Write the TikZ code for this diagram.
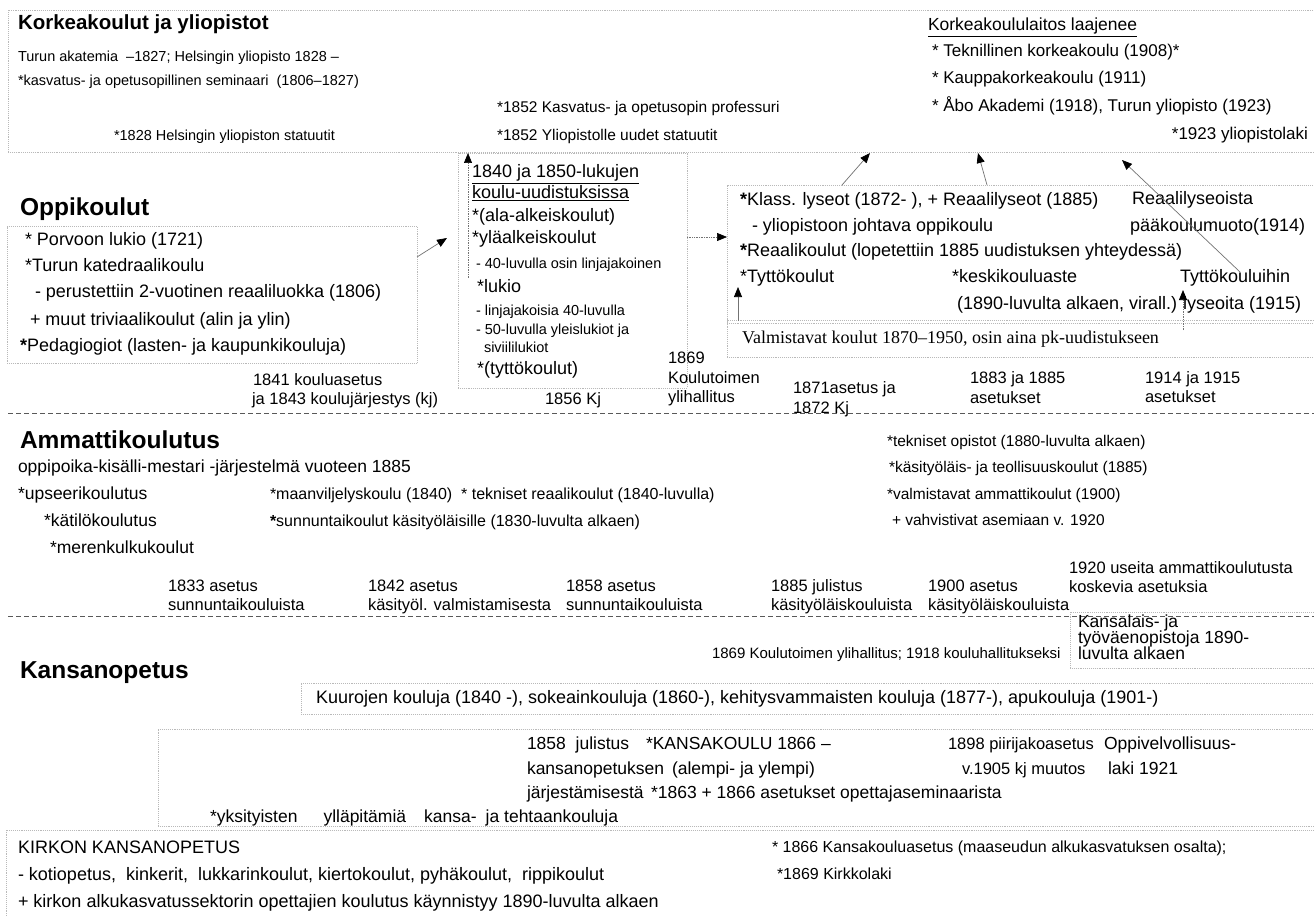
\documentclass[tikz,border=0pt]{standalone}
\usepackage{fontspec}
\setmainfont{Liberation Sans}
\newfontfamily\tmsfont{Liberation Serif}
\usetikzlibrary{arrows.meta}
\newcommand\bast{{\bfseries *}}
\begin{document}
\begin{tikzpicture}[x=1pt,y=-1pt,
 txt/.style={inner sep=0pt,outer sep=0pt,anchor=base west},
 txe/.style={inner sep=0pt,outer sep=0pt,anchor=base east},
 sect/.style={txt,font=\fontsize{24.5}{28}\selectfont\bfseries},
 bd/.style={txt,font=\fontsize{17.5}{20}\selectfont},
 kb/.style={txt,font=\fontsize{18}{21}\selectfont},
 tb/.style={txt,font=\fontsize{14.5}{17}\selectfont},
 tc/.style={txt,font=\fontsize{15.5}{18}\selectfont},
 tr/.style={txt,font=\fontsize{17}{20}\selectfont},
 am/.style={txt,font=\fontsize{15.5}{18}\selectfont},
 bx/.style={txt,font=\fontsize{18}{21}\selectfont},
 sm/.style={txt,font=\fontsize{14.5}{17}\selectfont},
 lab/.style={txt,font=\fontsize{16.5}{19}\selectfont},
 box/.style={draw=gray!55,densely dotted,line width=0.9pt,inner sep=0pt,outer sep=0pt,anchor=north west},
 sep/.style={draw=black!65,dash pattern=on 5pt off 3pt,line width=1pt},
 arr/.style={draw=black!55,line width=0.7pt,-{Triangle[length=10pt,width=8pt,color=black]}},
 darr/.style={arr,densely dotted},
]
\fill[white] (0,0) rectangle (1314,917);
\useasboundingbox (0,0) rectangle (1314,917);

% ---------- boxes ----------
\node[box,minimum width=1314,minimum height=142] (topbox) at (8,10) {};
\node[box,minimum width=410,minimum height=137] (opbox) at (7,226) {};
\node[box,minimum width=229,minimum height=235] (midbox) at (458,153) {};
\node[box,minimum width=600,minimum height=138] (klbox) at (727,185) {};
\node[box,minimum width=600,minimum height=37] (valbox) at (727,320) {};
\node[box,minimum width=260,minimum height=56] (kabox) at (1070,612) {};
\node[box,minimum width=1030,minimum height=31] (kubox) at (301,683) {};
\node[box,minimum width=1170,minimum height=97] (kkbox) at (158,729) {};
\node[box,minimum width=1320,minimum height=100] (kibox) at (6,830) {};

% ---------- separators ----------
\coordinate (s1a) at (8,413); \coordinate (s1b) at (1314,413);
\coordinate (s2a) at (8,616); \coordinate (s2b) at (1314,616);
\draw[sep] (s1a) -- (s1b);
\draw[sep] (s2a) -- (s2b);

% ---------- Korkeakoulut ----------
\node[txt,font=\fontsize{20.5}{24}\selectfont\bfseries] (t1) at (18,30) {Korkeakoulut ja yliopistot};
\node[tb] (k1) at (18,62) {Turun akatemia~ –1827; Helsingin yliopisto 1828 –};
\node[tb] (k2) at (18,86) {*kasvatus- ja opetusopillinen seminaari~ (1806–1827)};
\node[tc] (k3) at (497,113) {*1852 Kasvatus- ja opetusopin professuri};
\node[tc] (k4) at (497,141) {*1852 Yliopistolle uudet statuutit};
\node[tb] (k5) at (114,141) {*1828 Helsingin yliopiston statuutit};
\node[txt,font=\fontsize{17.5}{20}\selectfont] (k6) at (928,31) {\underline{Korkeakoululaitos laajenee}};
\node[tr] (k7) at (932,57) {* Teknillinen korkeakoulu (1908)*};
\node[tr] (k8) at (932,84) {* Kauppakorkeakoulu (1911)};
\node[tr] (k9) at (932,112) {* Åbo Akademi (1918), Turun yliopisto (1923)};
\node[txe,font=\fontsize{17}{20}\selectfont] (k10) at (1308,140) {*1923 yliopistolaki};

% ---------- Oppikoulut ----------
\node[sect] (t2) at (20,216) {Oppikoulut};
\node[bx] (o1) at (25,246) {* Porvoon lukio (1721)};
\node[bx] (o2) at (25,272) {*Turun katedraalikoulu};
\node[bx] (o3) at (35,298) {- perustettiin 2-vuotinen reaaliluokka (1806)};
\node[bx] (o4) at (30,325) {+ muut triviaalikoulut (alin ja ylin)};
\node[bx] (o5) at (20,351) {\bast Pedagiogiot (lasten- ja kaupunkikouluja)};
\node[lab] (l1) at (253,385) {1841 kouluasetus};
\node[lab] (l2) at (252,404) {ja 1843 koulujärjestys (kj)};

\node[bx] (m1) at (472,178) {\underline{1840 ja 1850-lukujen}};
\node[bx] (m2) at (472,199) {\underline{koulu-uudistuksissa}};
\node[bx] (m3) at (472,222) {*(ala-alkeiskoulut)};
\node[bx] (m4) at (472,244) {*yläalkeiskoulut};
\node[sm] (m5) at (476,269) {- 40-luvulla osin linjajakoinen};
\node[bx] (m6) at (477,292) {*lukio};
\node[sm] (m7) at (476,316) {- linjajakoisia 40-luvulla};
\node[sm] (m8) at (476,334) {- 50-luvulla yleislukiot ja};
\node[sm] (m9) at (484,352) {siviililukiot};
\node[bx] (m10) at (477,374) {*(tyttökoulut)};

\node[lab] (l3) at (545,404) {1856 Kj};
\node[lab] (l4) at (668,363) {1869};
\node[lab] (l5) at (668,383) {Koulutoimen};
\node[lab] (l6) at (668,402) {ylihallitus};
\node[lab] (l7) at (793,393) {1871asetus ja};
\node[lab] (l8) at (793,413) {1872 Kj};
\node[lab] (l9) at (970,383) {1883 ja 1885};
\node[lab] (l10) at (970,403) {asetukset};
\node[lab] (l11) at (1145,383) {1914 ja 1915};
\node[lab] (l12) at (1145,402) {asetukset};

\node[bx] (c1) at (740,206) {\bast Klass. lyseot (1872- ), + Reaalilyseot (1885)};
\node[bx] (c2) at (1132,205) {Reaalilyseoista};
\node[bx] (c3) at (752,232) {- yliopistoon johtava oppikoulu};
\node[bx] (c4) at (1130,232) {pääkoulumuoto(1914)};
\node[bx] (c5) at (740,257) {\bast Reaalikoulut (lopetettiin 1885 uudistuksen yhteydessä)};
\node[bx] (c6) at (740,283) {*Tyttökoulut};
\node[bx] (c7) at (952,283) {*keskikouluaste};
\node[bx] (c8) at (1180,283) {Tyttökouluihin};
\node[bx] (c9) at (957,309) {(1890-luvulta alkaen, virall.)};
\node[bx] (c10) at (1183,309) {lyseoita (1915)};
\node[txt,font=\tmsfont\fontsize{18}{21}\selectfont] (c11) at (742,343) {Valmistavat koulut 1870–1950, osin aina pk-uudistukseen};

% arrows
\coordinate (a1s) at (417,257); \coordinate (a1e) at (447,238);
\coordinate (a2s) at (468,278); \coordinate (a2e) at (468,153);
\coordinate (a3s) at (687,237); \coordinate (a3e) at (727,237);
\coordinate (a4s) at (842,185); \coordinate (a4e) at (870,153);
\coordinate (a5s) at (987,185); \coordinate (a5e) at (978,153);
\coordinate (a6s) at (1240,272); \coordinate (a6e) at (1122,160);
\coordinate (a7s) at (738,321); \coordinate (a7e) at (738,287);
\coordinate (a8s) at (1183,330); \coordinate (a8e) at (1183,290);
\draw[arr] (a1s) -- (a1e);
\draw[darr] (a2s) -- (a2e);
\draw[darr] (a3s) -- (a3e);
\draw[arr] (a4s) -- (a4e);
\draw[arr] (a5s) -- (a5e);
\draw[arr] (a6s) -- (a6e);
\draw[arr] (a7s) -- (a7e);
\draw[darr] (a8s) -- (a8e);

% ---------- Ammattikoulutus ----------
\node[sect] (t3) at (20,448) {Ammattikoulutus};
\node[bd] (p1) at (18,472) {oppipoika-kisälli-mestari -järjestelmä vuoteen 1885};
\node[bd] (p2) at (18,499) {*upseerikoulutus};
\node[bd] (p3) at (44,526) {*kätilökoulutus};
\node[bd] (p4) at (50,553) {*merenkulkukoulut};
\node[txt,font=\fontsize{16}{19}\selectfont] (p5) at (270,499) {*maanviljelyskoulu (1840)~ * tekniset reaalikoulut (1840-luvulla)};
\node[txt,font=\fontsize{16}{19}\selectfont] (p6) at (270,526) {\bast sunnuntaikoulut käsityöläisille (1830-luvulta alkaen)};
\node[am] (p7) at (887,446) {*tekniset opistot (1880-luvulta alkaen)};
\node[am] (p8) at (889,472) {*käsityöläis- ja teollisuuskoulut (1885)};
\node[am] (p9) at (887,499) {*valmistavat ammattikoulut (1900)};
\node[am] (p10) at (892,525) {+ vahvistivat asemiaan v. 1920};

\node[lab] (q1) at (168,591) {1833 asetus};
\node[lab] (q2) at (168,610) {sunnuntaikouluista};
\node[lab] (q3) at (368,591) {1842 asetus};
\node[lab] (q4) at (368,610) {käsityöl. valmistamisesta};
\node[lab] (q5) at (566,591) {1858 asetus};
\node[lab] (q6) at (566,610) {sunnuntaikouluista};
\node[lab] (q7) at (771,591) {1885 julistus};
\node[lab] (q8) at (771,610) {käsityöläiskouluista};
\node[lab] (q9) at (928,591) {1900 asetus};
\node[lab] (q10) at (928,610) {käsityöläiskouluista};
\node[lab] (q11) at (1069,573) {1920 useita ammattikoulutusta};
\node[lab] (q12) at (1069,592) {koskevia asetuksia};

% ---------- Kansanopetus ----------
\node[sect] (t4) at (20,678) {Kansanopetus};
\node[bd] (n1) at (1078,627) {Kansalais- ja};
\node[bd] (n2) at (1078,643) {työväenopistoja 1890-};
\node[bd] (n3) at (1078,659) {luvulta alkaen};
\node[txt,font=\fontsize{15}{18}\selectfont] (n4) at (712,658) {1869 Koulutoimen ylihallitus; 1918 kouluhallitukseksi};
\node[kb] (n5) at (316,703) {Kuurojen kouluja (1840 -), sokeainkouluja (1860-), kehitysvammaisten kouluja (1877-), apukouluja (1901-)};

\node[bd] (n6) at (527,749) {1858~ julistus};
\node[bd] (n7) at (527,774) {kansanopetuksen};
\node[bd] (n8) at (527,798) {järjestämisestä};
\node[bd] (n9) at (646,749) {*KANSAKOULU 1866 –};
\node[bd] (n10) at (672,774) {(alempi- ja ylempi)};
\node[bd] (n11) at (651,798) {*1863 + 1866 asetukset opettajaseminaarista};
\node[txt,font=\fontsize{16.5}{19}\selectfont] (n12) at (948,749) {1898 piirijakoasetus};
\node[txt,font=\fontsize{16.5}{19}\selectfont] (n13) at (962,774) {v.1905 kj muutos};
\node[bd] (n14) at (1104,749) {Oppivelvollisuus-};
\node[bd] (n15) at (1108,774) {laki 1921};
\node[bd] (n16) at (210,822) {*yksityisten\hspace{26pt}ylläpitämiä\hspace{18pt}kansa-\hspace{9pt}ja tehtaankouluja};

\node[kb] (r1) at (18,853) {KIRKON KANSANOPETUS};
\node[kb] (r2) at (18,880) {- kotiopetus,~ kinkerit,~ lukkarinkoulut, kiertokoulut, pyhäkoulut,~ rippikoulut};
\node[kb] (r3) at (18,907) {+ kirkon alkukasvatussektorin opettajien koulutus käynnistyy 1890-luvulta alkaen};
\node[txt,font=\fontsize{16}{19}\selectfont] (r4) at (772,852) {* 1866 Kansakouluasetus (maaseudun alkukasvatuksen osalta);};
\node[txt,font=\fontsize{16}{19}\selectfont] (r5) at (777,879) {*1869 Kirkkolaki};
\end{tikzpicture}
\end{document}
